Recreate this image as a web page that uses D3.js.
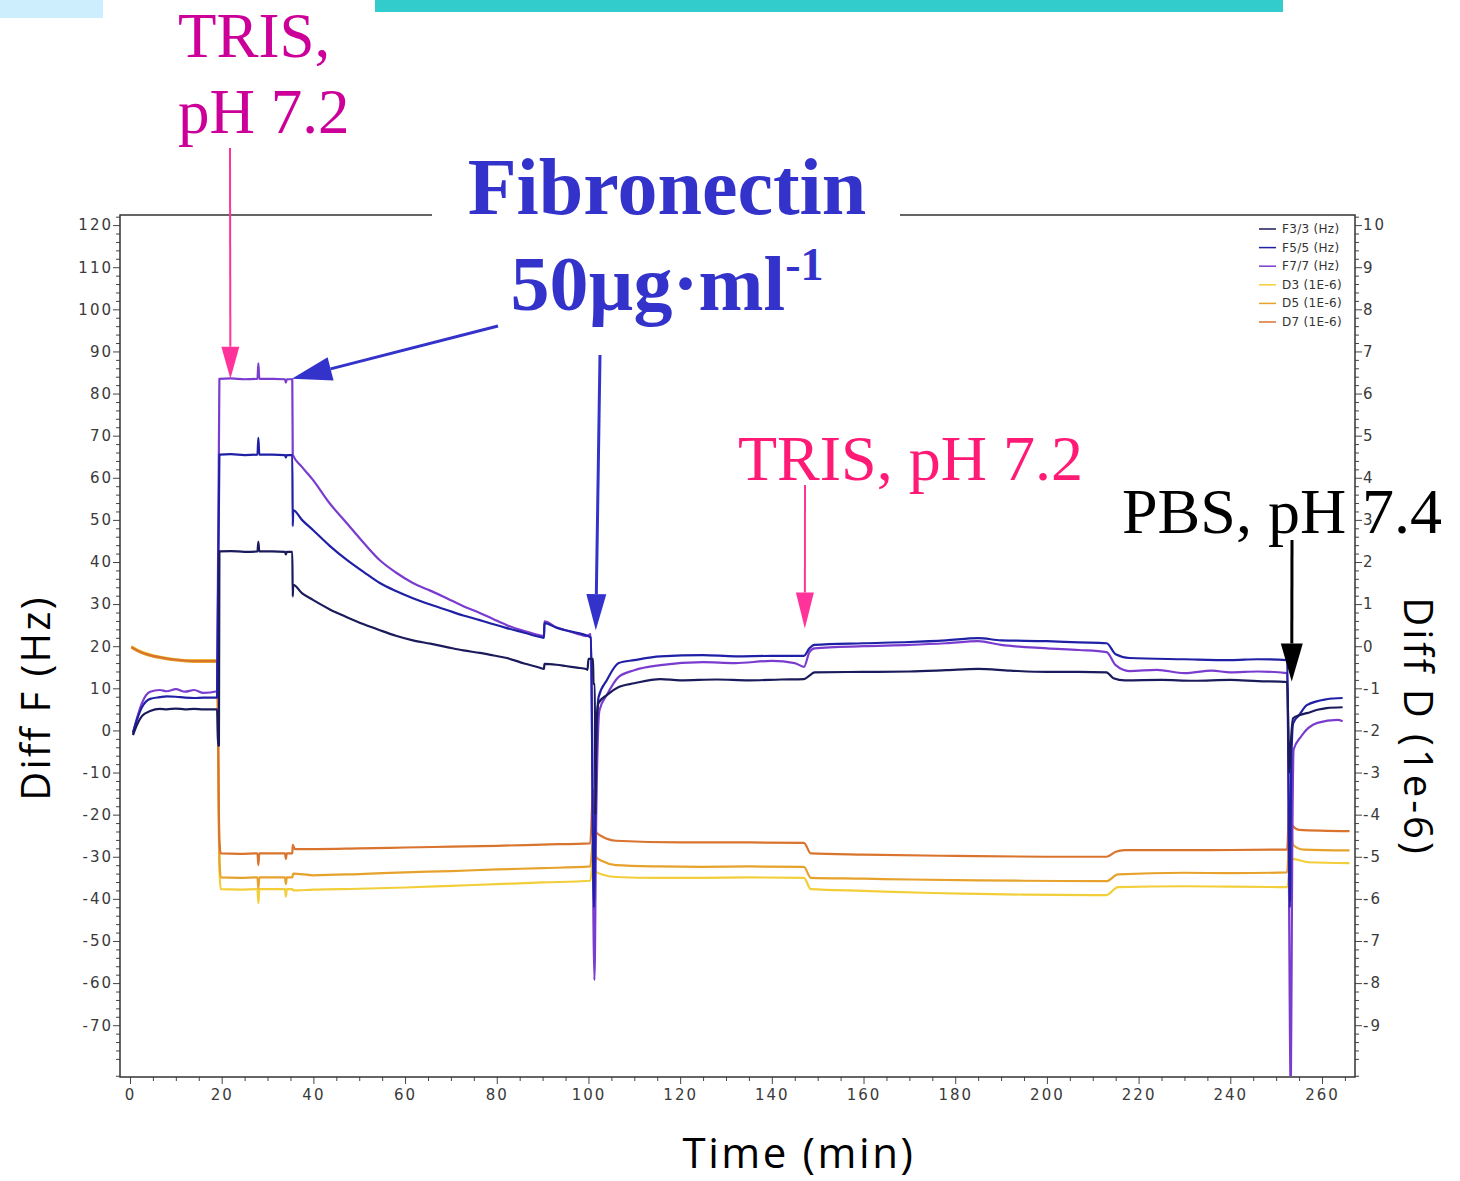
<!DOCTYPE html>
<html>
<head>
<meta charset="utf-8">
<script src="https://cdn.jsdelivr.net/npm/d3@7"></script>
<style>
  html, body { margin: 0; padding: 0; background: #fff; }
  svg { display: block; }
</style>
</head>
<body>
<svg id="chart" width="1460" height="1181"></svg>
<script>
// QCM-D run: frequency shifts (Hz, left axis) and dissipation shifts (1e-6, right axis) vs time (min)

// Frequency overtones, [time (min), ΔF (Hz)]
const f3 = [[0.65,-1.1],[1.5,1.3],[2.6,3.4],[4.4,4.6],[6.5,5.1],[8,5.0],[10,5.2],[12,5.0],[14,5.1],[16,5.0],[19.0,5.0],
  [19.2,-3.6],[19.4,-3.6],[19.5,42.5],[22,42.6],[25,42.4],[27.8,42.5],[28,44.8],[28.2,42.5],[31,42.5],[33.8,42.4],[34,41.8],[34.2,42.4],[35.4,42.4],
  [35.5,31.8],[35.6,34.6],[37.5,32.6],[39.9,31.0],[43.5,28.8],[47.3,26.9],[51,25.2],[54.5,23.8],[58,22.5],[61.7,21.4],[65.5,20.6],[69.1,19.8],[72.7,19.0],[76.3,18.4],[79.3,17.8],[82.2,17.2],[86,15.9],[89.4,14.9],[90.3,14.6],
  [90.4,15.8],[93,15.6],[95,15.3],[97.5,14.9],[99.5,14.6],[99.8,14.4],[100,17.0],[101,17.0],[101.1,11.0],[101.4,11.0],[101.5,-20],[101.7,0.5],
  [102.2,6.5],[104,8.4],[106.6,10.3],[110,11.2],[115.7,12.2],[120,11.9],[128,12.1],[135,11.9],[142,12.1],[147,12.2],
  [148.2,13.0],[149.3,13.8],[160,13.9],[170,14.0],[178,14.3],[185,14.6],[192,14.2],[200,13.9],[207,13.9],[213,13.8],[214.5,12.4],[217,11.9],[225,12.0],[232,11.8],[240,12.0],[246,11.7],[252.4,11.5],
  [252.9,-10],[253.2,-3],[253.7,2.9],[255,3.6],[256.7,4.1],[259,4.9],[261,5.3],[264.5,5.5]];

const f5 = [[0.65,-0.5],[1.5,2.5],[2.6,5.5],[4.4,7.5],[6.5,7.9],[8,8.1],[10,8.0],[12,7.8],[14,7.7],[16,7.8],[19.0,7.8],
  [19.5,65.5],[22,65.6],[25,65.4],[27.8,65.5],[28,69.5],[28.2,65.5],[31,65.5],[33.8,65.4],[34,64.8],[34.2,65.4],[35.4,65.4],
  [35.5,48.5],[35.6,52.3],[37.5,50.0],[39.9,47.6],[43.5,43.9],[47.3,40.5],[51,37.6],[54.5,35.0],[58,33.1],[61.7,31.4],[65.5,29.9],[69.1,28.6],[72.7,27.3],[76.3,26.2],[79.3,25.2],[82.2,24.3],[86,23.2],[89.4,22.2],[90.3,22.0],
  [90.4,25.5],[93,24.4],[95,23.8],[97.5,23.2],[99.5,22.6],[100.5,22.0],[101.2,-42],[101.6,-10],
  [102.2,7.9],[104,11.9],[106.6,16.0],[110,16.7],[115.7,17.6],[125,17.9],[132,17.6],[140,17.7],[147,17.7],
  [148.2,19.5],[149.3,20.3],[160,20.7],[170,21.0],[178,21.4],[185,21.9],[190,21.4],[200,21.2],[207,20.9],[213,20.7],[215,18.1],[218,17.2],[230,16.9],[240,16.7],[246,16.9],[252.4,16.7],
  [253.0,-42],[253.3,-8],[253.7,1.7],[255,3.6],[256.7,6.0],[261,7.4],[264.5,7.7]];

const f7 = [[0.65,-0.8],[1.5,2.8],[2.6,6.5],[4.4,9.2],[6.5,9.6],[8,9.3],[10,9.8],[12,9.2],[14,9.6],[16,8.9],[19.0,9.3],
  [19.5,83.5],[22,83.6],[25,83.4],[27.8,83.5],[28,87.2],[28.2,83.5],[31,83.5],[33.8,83.4],[34,82.6],[34.2,83.4],[35.4,83.4],
  [35.5,65.5],[37.5,62.6],[39.9,59.5],[43.5,54.0],[47.3,49.2],[51,44.5],[54.5,40.4],[58,37.5],[61.7,35.0],[65.5,33.2],[69.1,31.4],[72.7,29.5],[76.3,27.9],[79.3,26.4],[82.2,25.0],[86,23.6],[89.4,22.6],[90.3,22.4],
  [90.4,25.9],[93,24.5],[95,23.8],[97.5,23.0],[99.5,22.4],[100.5,22.9],[101.3,-59.3],[101.7,-20],
  [102.4,4.8],[104,8.4],[106.6,12.7],[110,14.3],[115.7,15.5],[125,16.2],[132,16.0],[140,16.5],[145,16.0],[147,15.1],
  [148.2,18.6],[149.3,19.5],[160,20.0],[170,20.3],[178,20.7],[185,21.2],[190,20.3],[200,19.5],[207,19.1],[213,18.6],[215,15.5],[218,14.1],[224,14.4],[230,13.6],[236,14.2],[240,13.8],[246,14.0],[252.4,13.6],
  [253.2,-86],[253.5,-30],[253.8,-4.6],[255.4,-1.5],[259,1.8],[263.4,2.5],[264.5,2.2]];

// Dissipation overtones, [time (min), ΔD (1e-6)]
const d3s = [[0.3,0],[2,-0.1],[4,-0.18],[7,-0.26],[10,-0.31],[14,-0.33],[19,-0.33],
  [19.5,-5.3],[19.8,-5.77],[24,-5.78],[27.8,-5.77],[28,-6.1],[28.2,-5.77],[33.8,-5.77],[34,-5.95],[34.2,-5.77],[35.4,-5.77],
  [35.6,-5.8],[40,-5.78],[50,-5.76],[60,-5.73],[70,-5.69],[80,-5.65],[90,-5.61],[100.4,-5.57],[101,-5.1],[101.6,-5.35],
  [103,-5.42],[106,-5.48],[115,-5.5],[125,-5.5],[135,-5.49],[147,-5.5],[148.5,-5.77],[160,-5.81],[175,-5.86],[185,-5.88],[195,-5.9],[213,-5.91],
  [215.5,-5.72],[230,-5.70],[240,-5.71],[252.4,-5.72],[253,-5.3],[253.6,-5.05],[257,-5.13],[266,-5.15]];

const d5s = [[0.3,-0.04],[2,-0.14],[4,-0.22],[7,-0.29],[10,-0.34],[14,-0.37],[19,-0.37],
  [19.5,-5.0],[19.8,-5.49],[24,-5.5],[27.8,-5.49],[28,-5.75],[28.2,-5.49],[33.8,-5.49],[34,-5.65],[34.2,-5.49],[35.4,-5.49],
  [35.6,-5.40],[40,-5.44],[50,-5.41],[60,-5.37],[70,-5.34],[80,-5.30],[90,-5.27],[100.4,-5.23],[101,-4.6],[101.6,-5.0],
  [103,-5.1],[106,-5.2],[115,-5.23],[125,-5.24],[135,-5.23],[147,-5.24],[148.5,-5.50],[160,-5.52],[170,-5.54],[185,-5.56],[195,-5.57],[213,-5.58],
  [215.5,-5.42],[230,-5.38],[240,-5.39],[252.4,-5.37],[253,-4.2],[253.7,-4.72],[256,-4.83],[266,-4.85]];

const d7s = [[0.3,-0.02],[2,-0.12],[4,-0.2],[7,-0.27],[10,-0.32],[14,-0.35],[19,-0.35],
  [19.5,-4.6],[19.8,-4.92],[24,-4.93],[27.8,-4.92],[28,-5.2],[28.2,-4.92],[33.8,-4.92],[34,-5.05],[34.2,-4.92],[35.4,-4.92],
  [35.5,-4.72],[36,-4.82],[50,-4.80],[60,-4.78],[70,-4.76],[80,-4.74],[90,-4.71],[100.4,-4.68],[101,-3.4],[101.6,-4.4],
  [103,-4.52],[106,-4.62],[120,-4.66],[135,-4.66],[147,-4.67],[148.5,-4.92],[160,-4.95],[180,-4.98],[200,-5.0],[213,-5.0],
  [215,-4.88],[217,-4.84],[235,-4.84],[252.4,-4.83],[252.9,-3.6],[253.5,-4.25],[255,-4.36],[266,-4.39]];

const seriesNames = ["F3/3 (Hz)", "F5/5 (Hz)", "F7/7 (Hz)", "D3 (1E-6)", "D5 (1E-6)", "D7 (1E-6)"];
const seriesColors = ["#1b1b5c", "#2020a6", "#7a3ccf", "#f2cf3a", "#e6a22c", "#d9742e"];

const timeTicks = [0, 20, 40, 60, 80, 100, 120, 140, 160, 180, 200, 220, 240, 260];
const freqTicks = [-70, -60, -50, -40, -30, -20, -10, 0, 10, 20, 30, 40, 50, 60, 70, 80, 90, 100, 110, 120];
const dissTicks = [-9, -8, -7, -6, -5, -4, -3, -2, -1, 0, 1, 2, 3, 4, 5, 6, 7, 8, 9, 10];

// ---- layout ----
const P = { left: 120, right: 1355, top: 215, bottom: 1077 };
const svg = d3.select("#chart");

const x = d3.scaleLinear().domain([-2.18, 267.2]).range([P.left, P.right]);
const yF = d3.scaleLinear().domain([-82.3, 122.4]).range([P.bottom, P.top]);
const yD = d3.scaleLinear().domain([-10.23, 10.24]).range([P.bottom, P.top]);

// slide decorations at the top edge
svg.append("rect").attr("x", 0).attr("y", 0).attr("width", 103).attr("height", 18).attr("fill", "#cdeefc");
svg.append("rect").attr("x", 375).attr("y", 0).attr("width", 908).attr("height", 12).attr("fill", "#33cccc");

// ---- axes ----
const tickFont = g => g.selectAll("text")
  .attr("font-family", "DejaVu Sans, Verdana, sans-serif")
  .attr("font-size", 15)
  .attr("letter-spacing", 2)
  .attr("fill", "#3a3a3a");
const tickLines = g => { g.select(".domain").remove(); g.selectAll("line").attr("stroke", "#444"); };
const fmt = d => String(d);

const minorT = d3.range(0, 267, 5).filter(v => v % 20 !== 0);
const minorF = d3.range(-82, 123, 2).filter(v => v % 10 !== 0);
const minorD = d3.range(-51, 52).map(v => v / 5).filter(v => !Number.isInteger(v));

svg.append("g").attr("transform", `translate(0,${P.bottom})`)
  .call(d3.axisBottom(x).tickValues(minorT).tickSize(4).tickFormat("")).call(tickLines);
svg.append("g").attr("transform", `translate(0,${P.bottom})`)
  .call(d3.axisBottom(x).tickValues(timeTicks).tickSize(7).tickPadding(5).tickFormat(fmt))
  .call(tickLines).call(tickFont);

svg.append("g").attr("transform", `translate(${P.left},0)`)
  .call(d3.axisLeft(yF).tickValues(minorF).tickSize(4).tickFormat("")).call(tickLines);
svg.append("g").attr("transform", `translate(${P.left},0)`)
  .call(d3.axisLeft(yF).tickValues(freqTicks).tickSize(7).tickPadding(0).tickFormat(fmt))
  .call(tickLines).call(tickFont);

svg.append("g").attr("transform", `translate(${P.right},0)`)
  .call(d3.axisRight(yD).tickValues(minorD).tickSize(4).tickFormat("")).call(tickLines);
svg.append("g").attr("transform", `translate(${P.right},0)`)
  .call(d3.axisRight(yD).tickValues(dissTicks).tickSize(7).tickPadding(1).tickFormat(fmt))
  .call(tickLines).call(tickFont);

// plot frame
svg.append("rect").attr("x", P.left).attr("y", P.top)
  .attr("width", P.right - P.left).attr("height", P.bottom - P.top)
  .attr("fill", "none").attr("stroke", "#333").attr("stroke-width", 1.5);

// ---- traces ----
svg.append("clipPath").attr("id", "plotClip").append("rect")
  .attr("x", P.left + 1).attr("y", P.top + 1)
  .attr("width", P.right - P.left - 2).attr("height", P.bottom - P.top - 2);
const traces = svg.append("g").attr("clip-path", "url(#plotClip)");

const lineF = d3.line().curve(d3.curveMonotoneX).x(d => x(d[0])).y(d => yF(d[1]));
const lineD = d3.line().curve(d3.curveMonotoneX).x(d => x(d[0])).y(d => yD(d[1]));

[[d3s, 3], [d5s, 4], [d7s, 5]].forEach(([data, i]) => {
  traces.append("path").datum(data).attr("d", lineD)
    .attr("fill", "none").attr("stroke", seriesColors[i]).attr("stroke-width", 2.2)
    .attr("stroke-linejoin", "round");
});
[[f7, 2], [f5, 1], [f3, 0]].forEach(([data, i]) => {
  traces.append("path").datum(data).attr("d", lineF)
    .attr("fill", "none").attr("stroke", seriesColors[i]).attr("stroke-width", 2.2)
    .attr("stroke-linejoin", "round");
});

// ---- legend ----
const legend = svg.append("g");
seriesNames.forEach((name, i) => {
  const yy = 229 + i * 18.6;
  legend.append("line").attr("x1", 1259).attr("x2", 1276).attr("y1", yy).attr("y2", yy)
    .attr("stroke", seriesColors[i]).attr("stroke-width", 1.5);
  legend.append("text").attr("x", 1282).attr("y", yy + 4).text(name)
    .attr("font-family", "DejaVu Sans, Verdana, sans-serif").attr("font-size", 12)
    .attr("letter-spacing", 0.3).attr("fill", "#333");
});

// ---- axis titles ----
svg.append("text").attr("x", 799).attr("y", 1168).attr("text-anchor", "middle")
  .attr("font-family", "Open Sans, sans-serif").attr("font-size", 42).attr("letter-spacing", 2.6)
  .attr("fill", "#000").text("Time (min)");
svg.append("text").attr("transform", "translate(50,698) rotate(-90)").attr("text-anchor", "middle")
  .attr("font-family", "Open Sans, sans-serif").attr("font-size", 40).attr("letter-spacing", 2.4)
  .attr("fill", "#000").text("Diff F (Hz)");
svg.append("text").attr("transform", "translate(1404,727) rotate(90)").attr("text-anchor", "middle")
  .attr("font-family", "Open Sans, sans-serif").attr("font-size", 40).attr("letter-spacing", 3)
  .attr("fill", "#000").text("Diff D (1e-6)");

// ---- annotations ----
function arrow(x1, y1, x2, y2, color, width, headLen, headW) {
  const dx = x2 - x1, dy = y2 - y1, len = Math.hypot(dx, dy);
  const ux = dx / len, uy = dy / len;
  const bx = x2 - ux * headLen, by = y2 - uy * headLen;
  svg.append("line").attr("x1", x1).attr("y1", y1).attr("x2", bx).attr("y2", by)
    .attr("stroke", color).attr("stroke-width", width);
  svg.append("path")
    .attr("d", `M${x2},${y2}L${bx - uy * headW / 2},${by + ux * headW / 2}L${bx + uy * headW / 2},${by - ux * headW / 2}Z`)
    .attr("fill", color);
}
const serif = "Liberation Serif, Times New Roman, serif";

// first buffer injection
svg.append("text").attr("x", 178).attr("y", 57).attr("font-family", serif).attr("font-size", 63)
  .attr("fill", "#cc0099").text("TRIS,");
svg.append("text").attr("x", 178).attr("y", 133).attr("font-family", serif).attr("font-size", 63)
  .attr("fill", "#cc0099").text("pH 7.2");
arrow(230, 148, x(21.9), yF(83.5), "#ff3399", 2, 32, 18);

// protein injection label, set into the top frame line
svg.append("rect").attr("x", 432).attr("y", 200).attr("width", 468).attr("height", 24).attr("fill", "#fff");
svg.append("text").attr("x", 667).attr("y", 214).attr("text-anchor", "middle")
  .attr("font-family", serif).attr("font-weight", "bold").attr("font-size", 80)
  .attr("fill", "#3333cc").text("Fibronectin");
const conc = svg.append("text").attr("x", 667).attr("y", 310).attr("text-anchor", "middle")
  .attr("font-family", serif).attr("font-weight", "bold").attr("font-size", 78).attr("fill", "#3333cc");
conc.append("tspan").text("50µg·ml");
conc.append("tspan").attr("font-size", 46).attr("dy", -30).text("-1");
arrow(498, 326, x(35.3), yF(83.5), "#3333cc", 3, 40, 24);
arrow(600, 355, x(101.6), yF(23.8), "#3333cc", 3, 36, 20);

// second buffer injection
svg.append("text").attr("x", 738).attr("y", 480).attr("font-family", serif).attr("font-size", 64)
  .attr("fill", "#ff1a75").text("TRIS, pH 7.2");
arrow(805, 485, x(147.2), yF(24.2), "#ff3399", 2, 36, 18);

// final buffer exchange
svg.append("text").attr("x", 1122).attr("y", 533).attr("font-family", serif).attr("font-size", 64)
  .attr("fill", "#000").text("PBS, pH 7.4");
arrow(1292, 540, x(253.4), yF(11.6), "#000", 3, 38, 22);
</script>
</body>
</html>
